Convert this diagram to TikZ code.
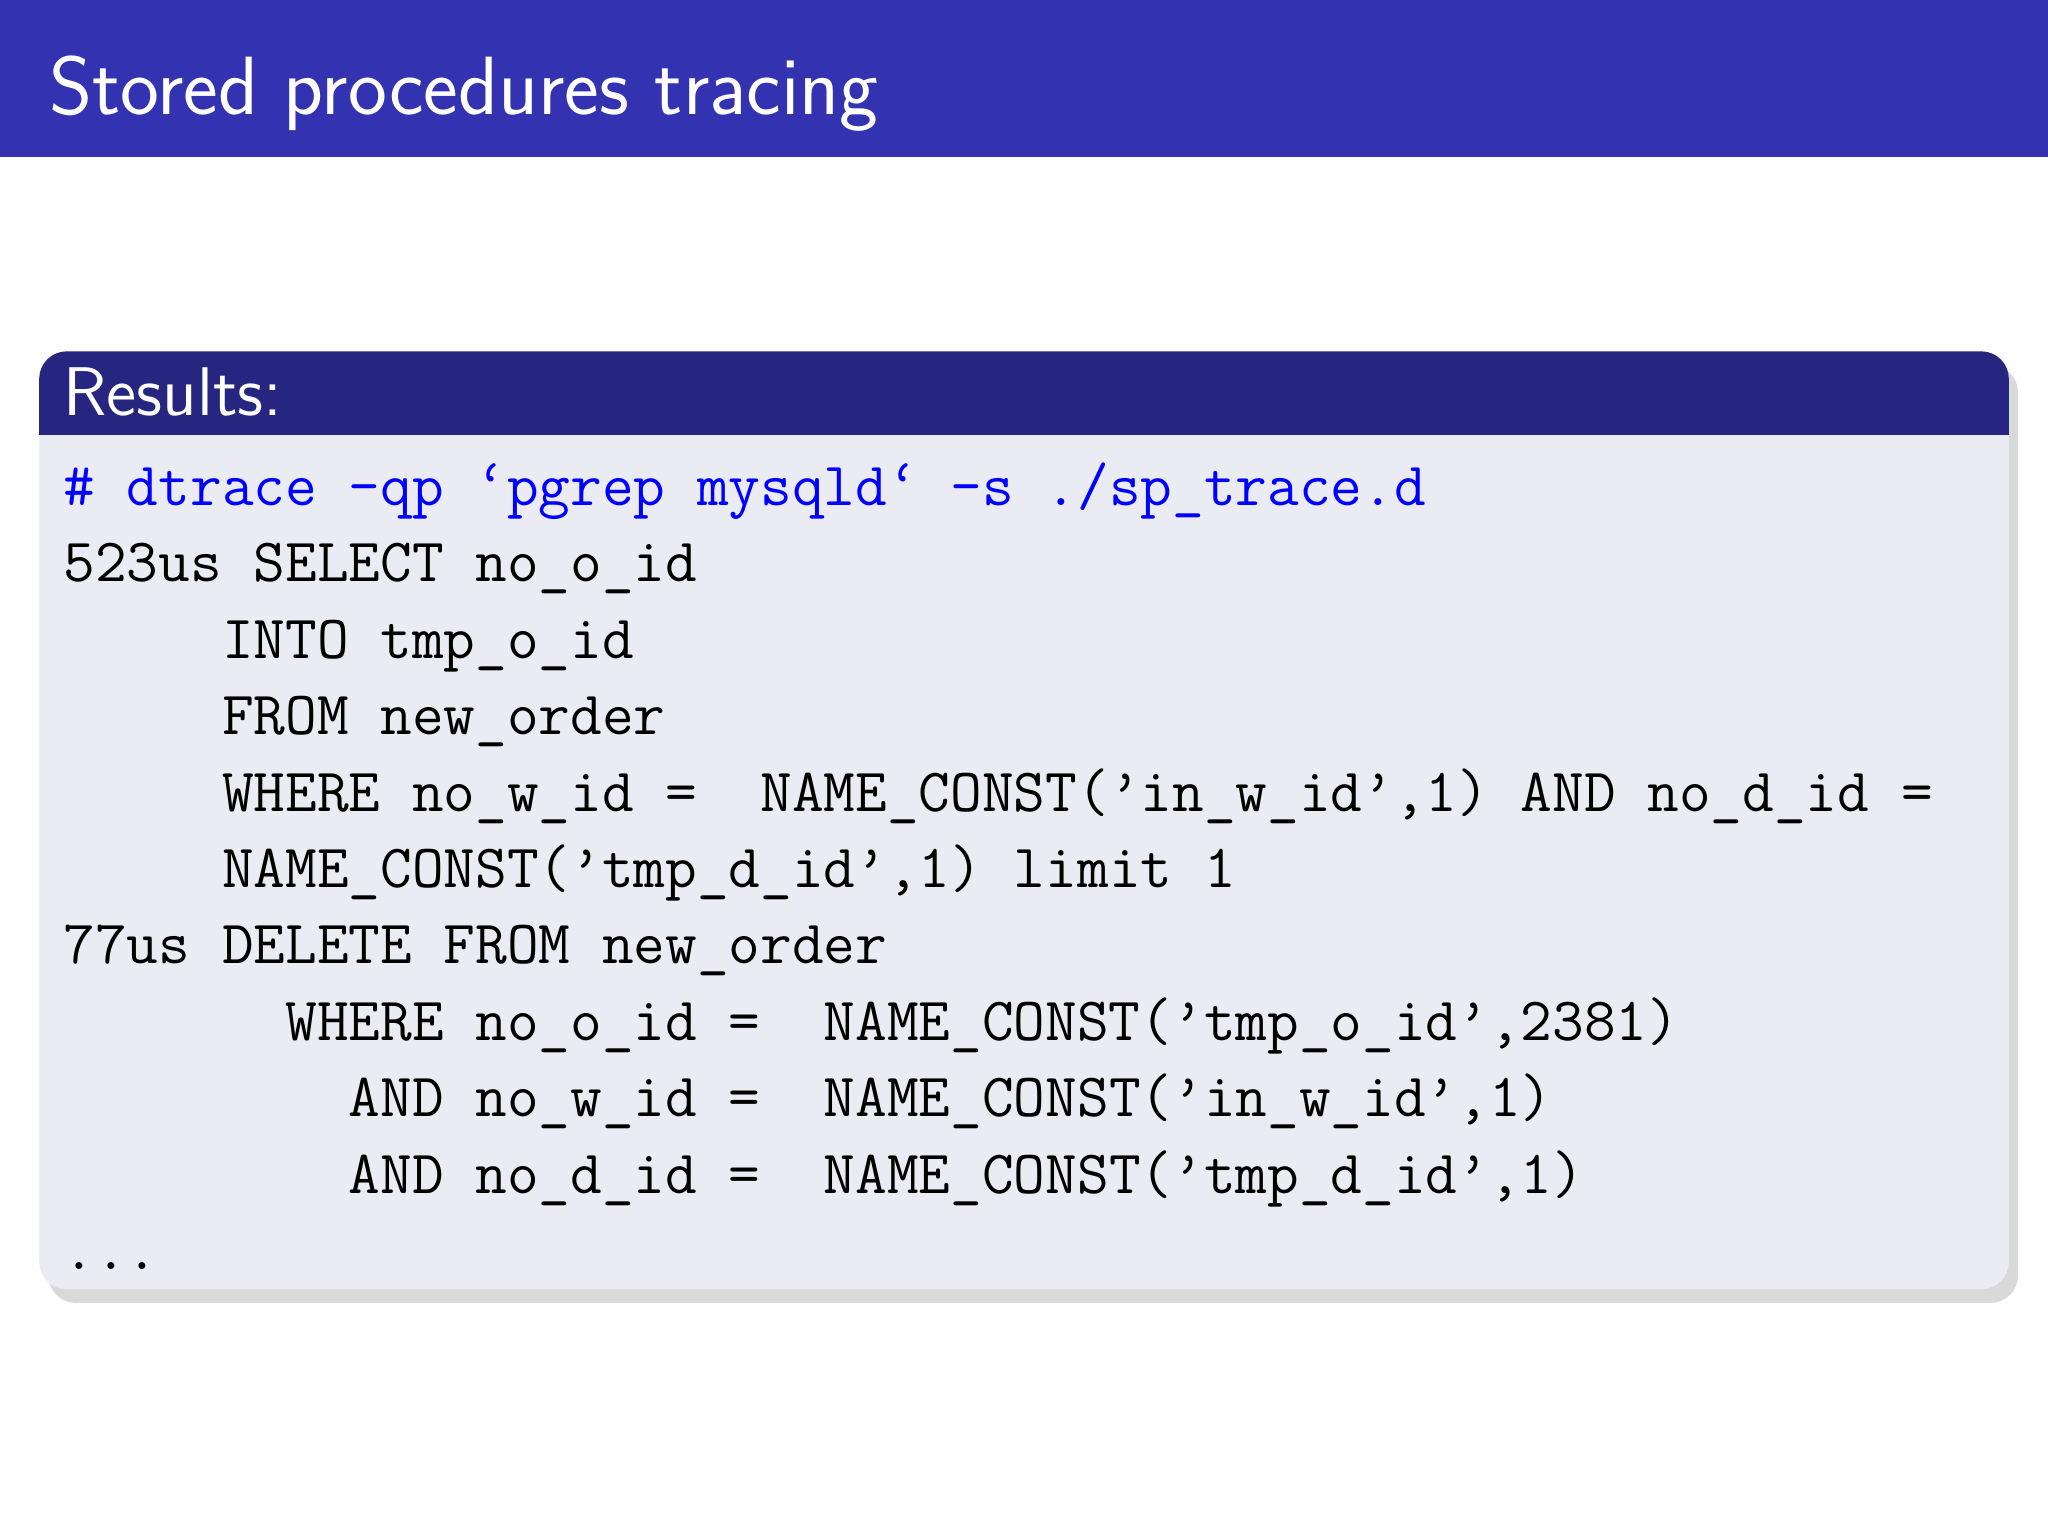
\documentclass[tikz,border=0pt]{standalone}
\usetikzlibrary{shadows}
\definecolor{hdr}{RGB}{51,51,178}
\definecolor{blk}{RGB}{38,38,128}
\definecolor{body}{RGB}{235,235,244}
\newcommand{\myql}{\textquoteleft}
\newcommand{\myqr}{\textquoteright}
\begin{document}
\begin{tikzpicture}[x=1cm,y=-1cm,
  code/.style={anchor=base west,inner sep=0pt,font=\fontsize{13.4}{16}\selectfont\ttfamily}]
\useasboundingbox (0,0) rectangle (15.68,11.76);
\fill[hdr] (0,0) rectangle (15.68,1.2);
\node[anchor=base west,inner sep=0,text=white,font=\fontsize{18}{22}\selectfont\sffamily] (title) at (0.37,0.88) {Stored procedures tracing};
\fill[body,rounded corners=6pt,drop shadow={shadow xshift=2pt,shadow yshift=-3pt,opacity=0.3}] (0.3,2.69) rectangle (15.38,9.87);
\fill[blk,rounded corners=6pt] (0.3,2.69) rectangle (15.38,3.33);
\fill[blk] (0.3,3.1) rectangle (15.38,3.33);
\node[anchor=base west,inner sep=0,text=white,font=\fontsize{15}{18}\selectfont\sffamily] (res) at (0.48,3.18) {Results:};
\node[code,text=blue] (l1) at (0.48,3.87) {\#\ dtrace\ -qp\ \myql pgrep\ mysqld\myql\ -s\ ./sp\_trace.d};
\node[code] (l2) at (0.48,4.455) {523us\ SELECT\ no\_o\_id};
\node[code] (l3) at (0.48,5.04) {\ \ \ \ \ INTO\ tmp\_o\_id};
\node[code] (l4) at (0.48,5.625) {\ \ \ \ \ FROM\ new\_order};
\node[code] (l5) at (0.48,6.21) {\ \ \ \ \ WHERE\ no\_w\_id\ =\ \ NAME\_CONST(\myqr in\_w\_id\myqr,1)\ AND\ no\_d\_id\ =};
\node[code] (l6) at (0.48,6.795) {\ \ \ \ \ NAME\_CONST(\myqr tmp\_d\_id\myqr,1)\ limit\ 1};
\node[code] (l7) at (0.48,7.38) {77us\ DELETE\ FROM\ new\_order};
\node[code] (l8) at (0.48,7.965) {\ \ \ \ \ \ \ WHERE\ no\_o\_id\ =\ \ NAME\_CONST(\myqr tmp\_o\_id\myqr,2381)};
\node[code] (l9) at (0.48,8.55) {\ \ \ \ \ \ \ \ \ AND\ no\_w\_id\ =\ \ NAME\_CONST(\myqr in\_w\_id\myqr,1)};
\node[code] (l10) at (0.48,9.135) {\ \ \ \ \ \ \ \ \ AND\ no\_d\_id\ =\ \ NAME\_CONST(\myqr tmp\_d\_id\myqr,1)};
\node[code] (l11) at (0.48,9.72) {...};
\end{tikzpicture}
\end{document}
